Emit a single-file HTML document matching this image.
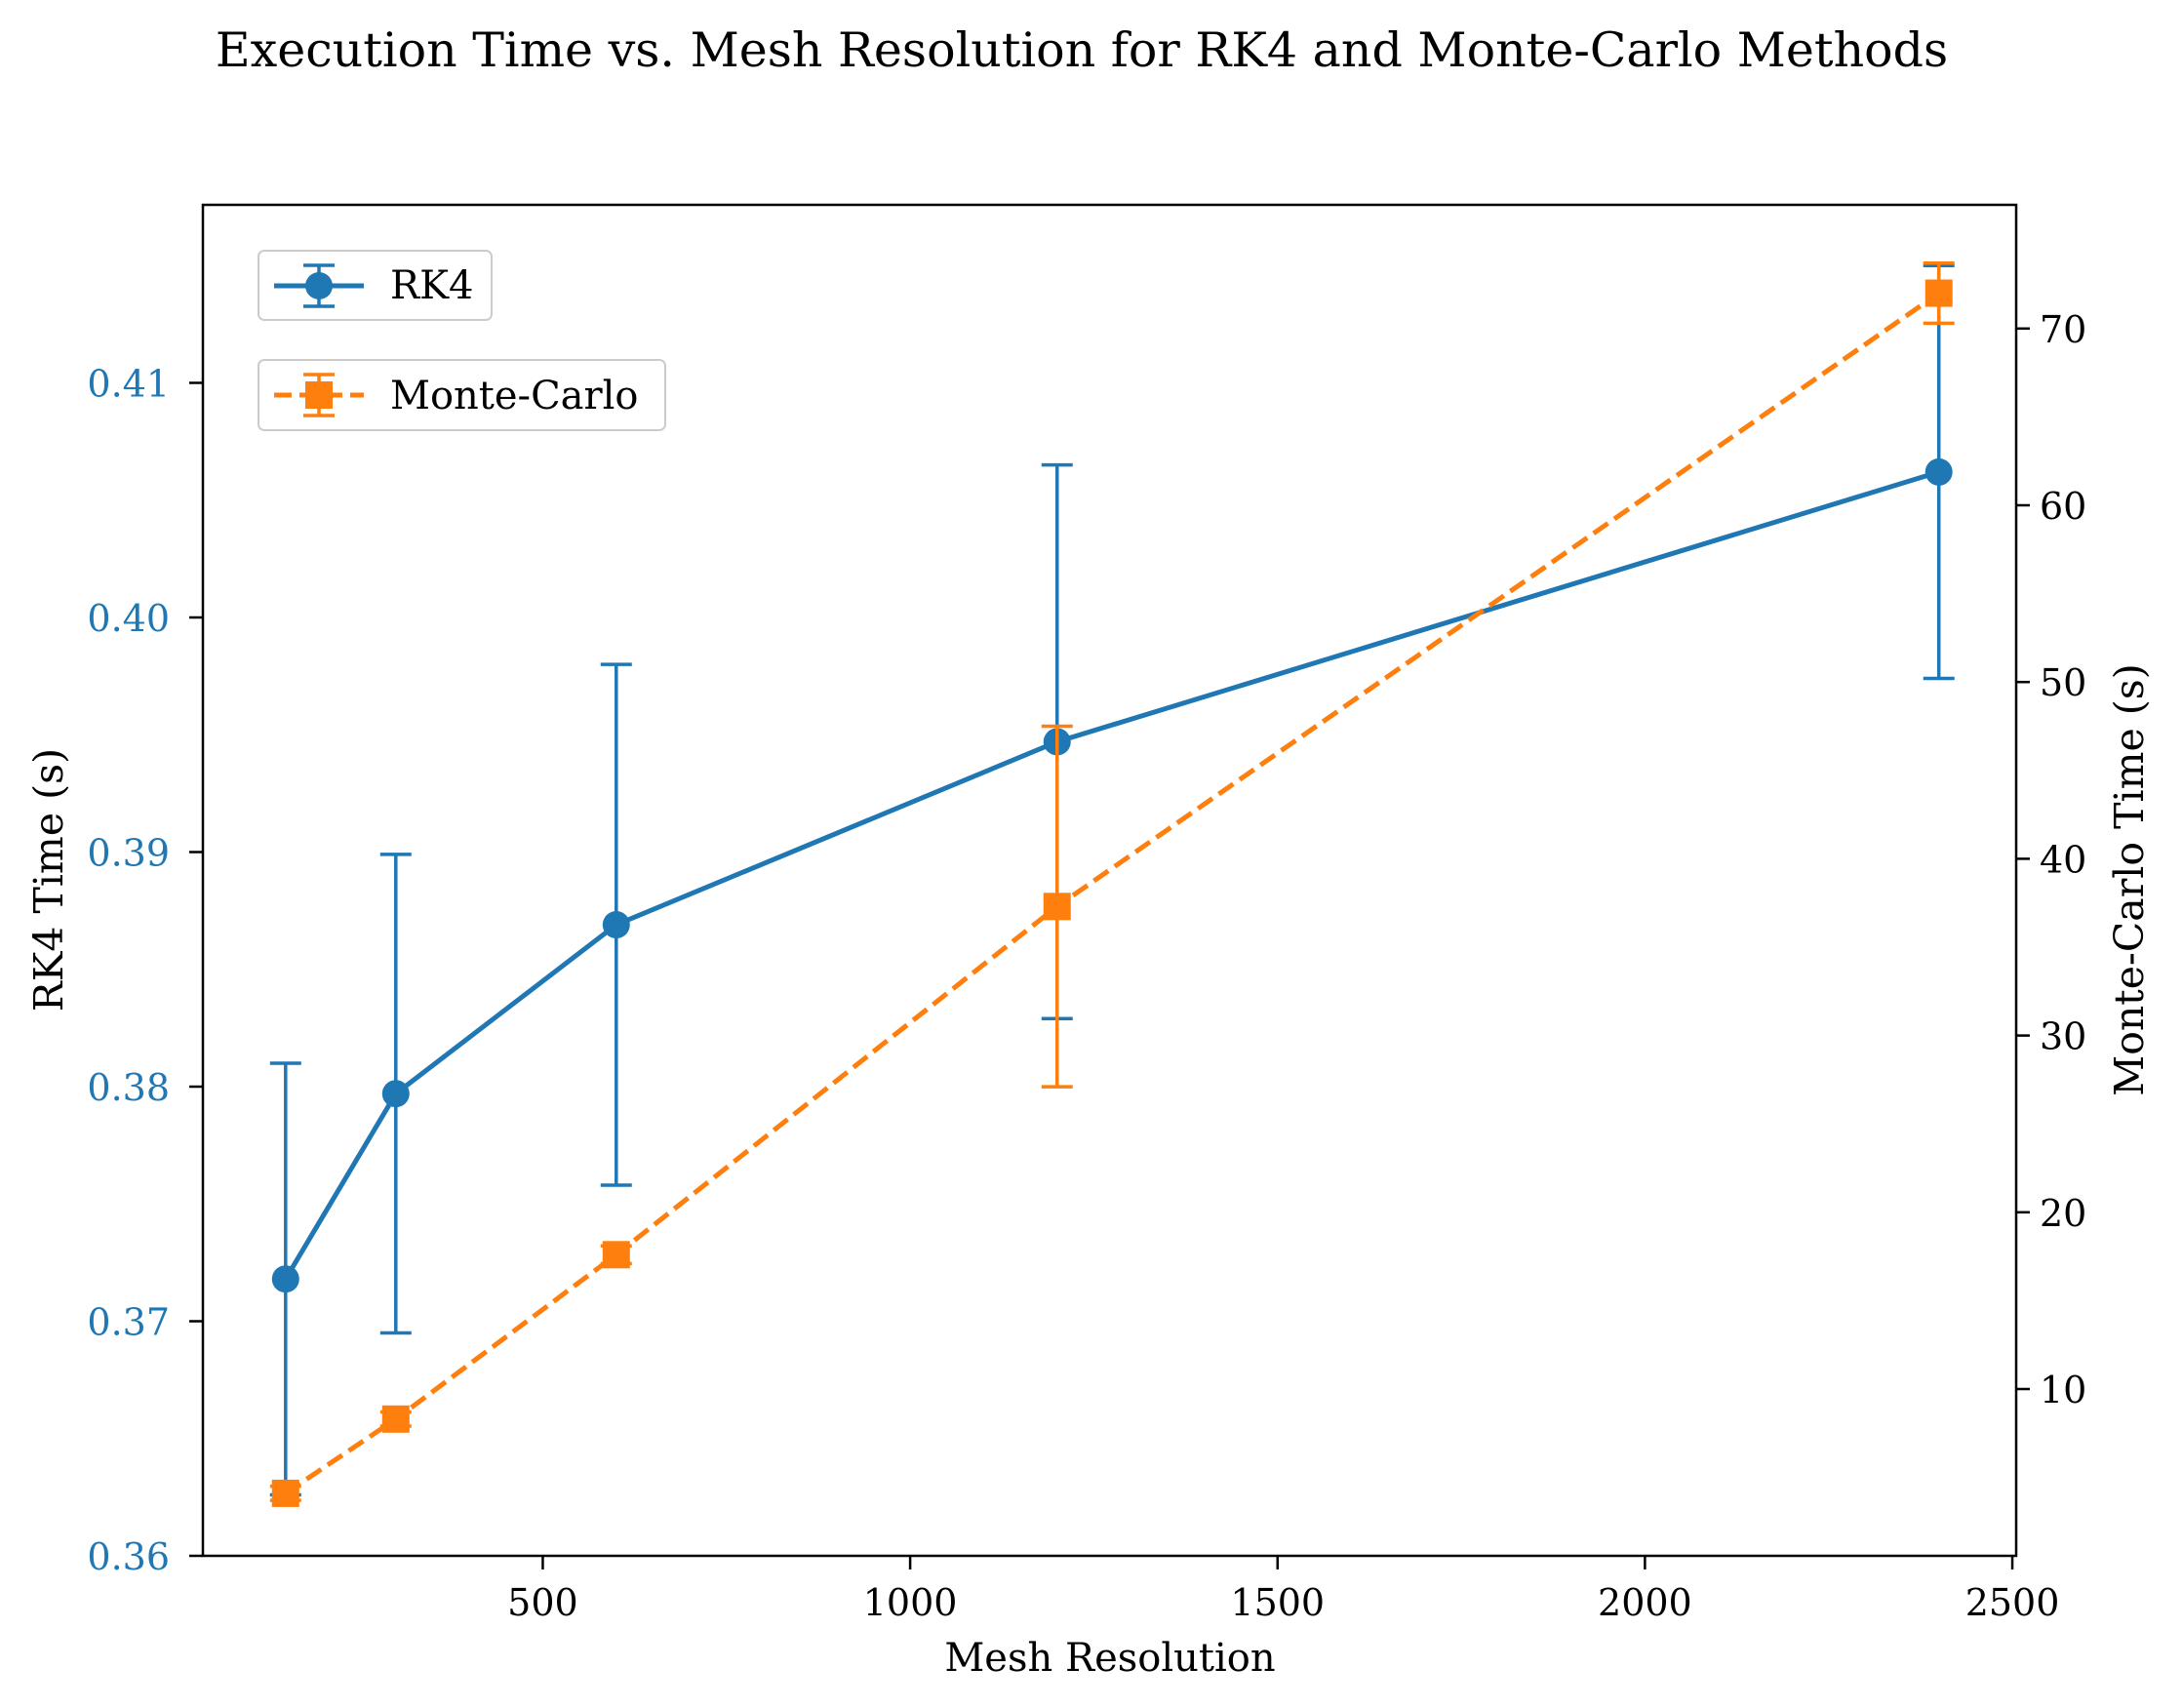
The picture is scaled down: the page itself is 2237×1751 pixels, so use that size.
<!DOCTYPE html>
<html><head><meta charset="utf-8"><style>
html,body{margin:0;padding:0;background:#fff}
svg{display:block;font-family:"DejaVu Serif","Liberation Serif",serif}
</style></head><body>
<svg id="chart" width="2237" height="1751" xmlns="http://www.w3.org/2000/svg">
<text x="1109" y="68" font-size="49" text-anchor="middle">Execution Time vs. Mesh Resolution for RK4 and Monte-Carlo Methods</text>
<g id="plot"></g>
<rect x="208" y="210" width="1859" height="1385" fill="none" stroke="#000" stroke-width="2.5"/>
<text x="1138" y="1713" font-size="40" text-anchor="middle">Mesh Resolution</text>
<text transform="translate(64,902) rotate(-90)" font-size="41" text-anchor="middle">RK4 Time (s)</text>
<text transform="translate(2197,902) rotate(-90)" font-size="41" text-anchor="middle">Monte-Carlo Time (s)</text>
<g>
<rect x="265" y="257" width="239" height="71" rx="6" fill="#fff" fill-opacity="0.8" stroke="#ccc" stroke-width="2"/>
<line x1="281" y1="293" x2="373" y2="293" stroke="#1f77b4" stroke-width="5"/>
<line x1="327" y1="272" x2="327" y2="314" stroke="#1f77b4" stroke-width="3.5"/>
<line x1="311" y1="272" x2="343" y2="272" stroke="#1f77b4" stroke-width="3.5"/>
<line x1="311" y1="314" x2="343" y2="314" stroke="#1f77b4" stroke-width="3.5"/>
<circle cx="327" cy="293" r="14" fill="#1f77b4"/>
<text x="400" y="306" font-size="40">RK4</text>
</g>
<g>
<rect x="265" y="369" width="417" height="72" rx="6" fill="#fff" fill-opacity="0.8" stroke="#ccc" stroke-width="2"/>
<line x1="281" y1="405" x2="373" y2="405" stroke="#ff7f0e" stroke-width="5" stroke-dasharray="18,8"/>
<line x1="327" y1="384" x2="327" y2="426" stroke="#ff7f0e" stroke-width="3.5"/>
<line x1="311" y1="384" x2="343" y2="384" stroke="#ff7f0e" stroke-width="3.5"/>
<line x1="311" y1="426" x2="343" y2="426" stroke="#ff7f0e" stroke-width="3.5"/>
<rect x="313" y="391" width="28" height="28" fill="#ff7f0e"/>
<text x="400" y="419" font-size="40">Monte-Carlo</text>
</g>
</svg>
<script>
const meshSizes=[150,300,600,1200,2400];
const rk4Times=[0.3718,0.3797,0.3869,0.3947,0.4062];
const rk4Errors=[0.0092,0.0102,0.0111,0.0118,0.0088];
const mcTimes=[4.1,8.3,17.6,37.3,72.0];
const mcErrors=[0.4,0.4,0.5,10.2,1.7];
const xTicks=[500,1000,1500,2000,2500];
const leftTicks=[0.36,0.37,0.38,0.39,0.40,0.41];
const rightTicks=[10,20,30,40,50,60,70];

const NS="http://www.w3.org/2000/svg";
const X0=208,X1=2067,Y0=210,Y1=1595;
const xs=v=>179.8+v*0.7533;
const yl=v=>1595-(v-0.36)*24050;
const yr=v=>1424-(v-10)*18.12;
const svg=document.getElementById('chart');
const plot=document.getElementById('plot');
function mk(tag,attrs,parent){const e=document.createElementNS(NS,tag);for(const k in attrs)e.setAttribute(k,attrs[k]);(parent||plot).appendChild(e);return e;}

xTicks.forEach(t=>{const x=xs(t);
 const l=mk('line',{x1:x,x2:x,y1:Y1,y2:Y1+14,stroke:'#000','stroke-width':2.5},svg);
 
 
 const tx=mk('text',{x:x,y:Y1+61,'font-size':38,'text-anchor':'middle'},svg);tx.textContent=t;
 
 
});
leftTicks.forEach(t=>{const y=yl(t);
 const l=mk('line',{x1:X0-14,x2:X0,y1:y,y2:y,stroke:'#000','stroke-width':2.5},svg);
 
 
 const tx=mk('text',{x:X0-34,y:y+14,'font-size':38,'text-anchor':'end',fill:'#1f77b4'},svg);tx.textContent=t.toFixed(2);
 
 
});
rightTicks.forEach(t=>{const y=yr(t);
 const l=mk('line',{x1:X1,x2:X1+14,y1:y,y2:y,stroke:'#000','stroke-width':2.5},svg);
 
 
 const tx=mk('text',{x:X1+24,y:y+14,'font-size':38},svg);tx.textContent=t;
 
 
});

function series(vals,errs,ys,color,dash,square,name){
 const g=mk('g',{});
 
 
 vals.forEach((v,i)=>{const x=xs(meshSizes[i]),t=ys(v+errs[i]),b=ys(v-errs[i]);
  const e=mk('path',{d:`M${x},${t}V${b}M${x-16},${t}h32M${x-16},${b}h32`,stroke:color,'stroke-width':3.5,fill:'none'},g);
  
  
 });
 const pts=vals.map((v,i)=>xs(meshSizes[i])+','+ys(v)).join(' ');
 const pl=mk('polyline',{points:pts,fill:'none',stroke:color,'stroke-width':5,'stroke-dasharray':dash||'none'},g);
 
 
 vals.forEach((v,i)=>{const x=xs(meshSizes[i]),y=ys(v);
  const m=square?mk('rect',{x:x-14,y:y-14,width:28,height:28,fill:color},g):mk('circle',{cx:x,cy:y,r:14,fill:color},g);
  
  
 });
}
series(rk4Times,rk4Errors,yl,'#1f77b4',null,false,'rk4');
series(mcTimes,mcErrors,yr,'#ff7f0e','18,8',true,'monte-carlo');
</script>
</body></html>
